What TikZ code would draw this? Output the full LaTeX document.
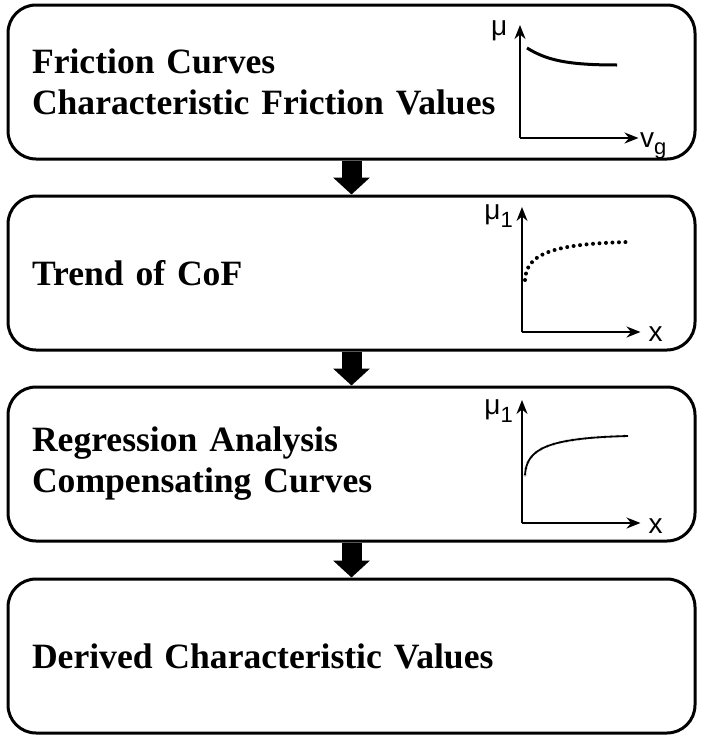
\documentclass[tikz,border=0pt]{standalone}
\usepackage{fontspec}
\setmainfont{Liberation Serif}
\setsansfont{Liberation Sans}
\usetikzlibrary{positioning,arrows.meta}

\begin{document}
\begin{tikzpicture}[
	x=1pt, y=-1pt,
	node distance=34pt and 0pt,
	stepbox/.style={draw, line width=3pt, rounded corners=28pt, minimum width=687pt, minimum height=154pt, text width=639pt, inner xsep=24pt, align=left, font=\fontsize{35.6}{41}\selectfont\bfseries},
	flow/.style={line width=20pt, -{Triangle[width=36pt,length=17pt]}},
	axis/.style={line width=1.8pt, -{Stealth[length=14pt,width=11pt]}},
	axlabel/.style={font=\fontsize{28}{28}\selectfont\sffamily, inner sep=0pt},
	curve/.style={line width=3pt}
	]
	
	\useasboundingbox (0,0) rectangle (703,739);
	
	\node[stepbox] (fc) at (351.5,82) {Friction Curves\\Characteristic Friction Values};
	\node[stepbox, below = of fc] (cof) {Trend of CoF};
	\node[stepbox, below = of cof] (reg) {Regression Analysis\\Compensating Curves};
	\node[stepbox, below = of reg, yshift=-1pt] (dcv) {Derived Characteristic Values};
	
	\draw[flow] (fc.south) -- (cof.north);
	\draw[flow] (cof.south) -- (reg.north);
	\draw[flow] (reg.south) -- (dcv.north);
	
	% friction curve
	\begin{scope}[shift={(fc.center)}]
		\coordinate (o1) at (168.5,56);
		\draw[axis] (o1) -- (168.5,-57);
		\draw[axis] (o1) -- (287,56);
		\node[axlabel, anchor=base east] (mu) at (156,-47) {μ};
		\node[axlabel, anchor=base west] (vg) at (288.5,65) {v\raisebox{-7pt}{\fontsize{22}{22}\selectfont g}};
		\draw[curve] (175.5,-34) .. controls (195,-22) and (215,-17) .. (265.5,-17);
	\end{scope}
	
	% trend of CoF
	\begin{scope}[shift={(cof.center)}]
		\coordinate (o2) at (170.5,59);
		\draw[axis] (o2) -- (170.5,-66);
		\draw[axis] (o2) -- (289,59);
		\node[axlabel, anchor=base east] (mua) at (161.5,-54) {μ\raisebox{-8pt}{\fontsize{22}{22}\selectfont 1}};
		\node[axlabel, anchor=base west] (xa) at (297,68) {x};
		\draw[line width=4pt, line cap=round, dash pattern=on 0pt off 6.5pt] (173.5,7) .. controls (175,-17) and (195,-29) .. (276.5,-31);
	\end{scope}
	
	% regression
	\begin{scope}[shift={(reg.center)}]
		\coordinate (o3) at (170.5,59);
		\draw[axis] (o3) -- (170.5,-64);
		\draw[axis] (o3) -- (289,59);
		\node[axlabel, anchor=base east] (mub) at (161.5,-50) {μ\raisebox{-8pt}{\fontsize{22}{22}\selectfont 1}};
		\node[axlabel, anchor=base west] (xb) at (297,69) {x};
		\draw[gray!60, line width=3.5pt, line cap=round, dash pattern=on 0pt off 6.5pt] (173.5,11) .. controls (175,-15) and (195,-26) .. (276.5,-28);
		\draw[line width=1.8pt] (173.5,11) .. controls (175,-15) and (195,-26) .. (276.5,-28);
	\end{scope}
	
\end{tikzpicture}
\end{document}
